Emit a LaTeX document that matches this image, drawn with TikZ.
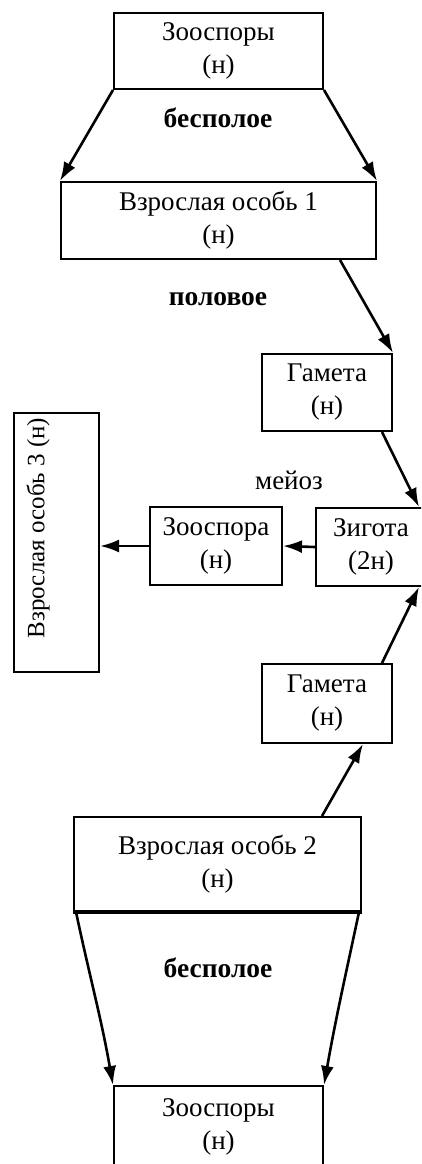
\documentclass[tikz,border=0pt]{standalone}
\usepackage{fontspec}
\setmainfont{Liberation Serif}
\usetikzlibrary{arrows.meta,calc}
\tikzset{
  box/.style={draw, line width=2pt, inner sep=0pt, align=center,
    font=\fontsize{27}{33}\selectfont},
  arr/.style={line width=2.6pt, -{Latex[length=19pt,width=13pt]}},
  lbl/.style={inner sep=0pt, font=\fontsize{27.5}{30}\selectfont\bfseries},
  rlbl/.style={inner sep=0pt, font=\fontsize{27}{30}\selectfont}
}
\begin{document}
\begin{tikzpicture}[x=1pt,y=-1pt]
\useasboundingbox (0,0) rectangle (421,1164);
\clip (0,0) rectangle (421,1164);
% boxes
\node[box, minimum width=209pt, minimum height=76pt] (top) at (218.5,51) {Зооспоры\\(н)};
\node[box, minimum width=315pt, minimum height=77pt] (v1) at (218.5,220.5) {Взрослая особь 1\\(н)};
\node[box, minimum width=130pt, minimum height=77pt] (g1) at (327,392.5) {Гамета\\(н)};
\node[box, minimum width=110pt, minimum height=78pt] (zig) at (371,547) {Зигота\\(2н)};
\node[box, minimum width=132pt, minimum height=78pt] (zsp) at (216,546) {Зооспора\\(н)};
\node[box, minimum width=85pt, minimum height=259pt] (v3) at (56.5,542.5) {};
\node[rlbl, rotate=90, font=\fontsize{25}{28}\selectfont] (v3t) at (38,528) {Взрослая особь 3 (н)};
\node[box, minimum width=130pt, minimum height=79pt] (g2) at (327,703.5) {Гамета\\(н)};
\node[box, minimum width=287pt, minimum height=94pt] (v2) at (217.5,864) {Взрослая особь 2\\(н)};
\draw[line width=3pt] (v2.south west) -- (v2.south east);
\node[box, minimum width=209pt, minimum height=82pt] (bot) at (218.5,1127) {Зооспоры\\(н)};
% labels
\node[lbl] (l1) at (218,118) {бесполое};
\node[lbl] (l2) at (218,299) {половое};
\node[rlbl] (l3) at (289,480) {мейоз};
\node[lbl] (l4) at (218,968) {бесполое};
% connectors
\draw[arr] (top.south west) -- (v1.north west);
\draw[arr] (top.south east) -- (v1.north east);
\draw[arr] ([xshift=121.5pt]v1.south) -- (g1.north east);
\draw[arr] ([xshift=55pt]g1.south) -- ([xshift=48pt]zig.north);
\draw[arr] ([xshift=55pt]g2.north) -- ([xshift=48pt]zig.south);
\draw[arr] ([xshift=104.5pt]v2.north) -- ([xshift=36pt]g2.south);
\draw[arr] (zig.west) -- (zsp.east);
\draw[arr] (zsp.west) -- (zsp.west -| v3.east);
\draw[arr] ([xshift=3pt]v2.south west) to[out=-78,in=100] (bot.north west);
\draw[arr] ([xshift=-3pt]v2.south east) to[out=-102,in=80] (bot.north east);
\end{tikzpicture}
\end{document}
